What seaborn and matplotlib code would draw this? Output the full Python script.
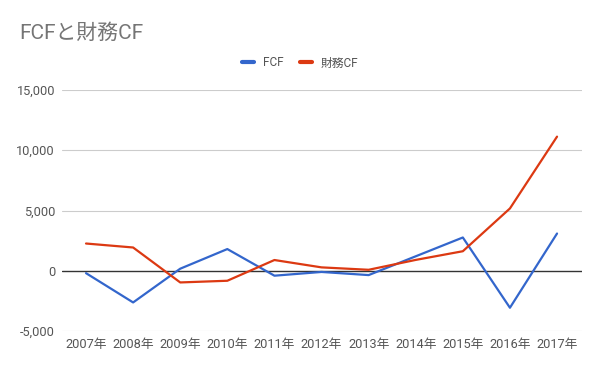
import matplotlib
matplotlib.use("Agg")
import matplotlib.pyplot as plt
import seaborn as sns
import pandas as pd
from matplotlib.lines import Line2D

years = ["2007年", "2008年", "2009年", "2010年", "2011年", "2012年",
         "2013年", "2014年", "2015年", "2016年", "2017年"]
fcf = [-200, -2630, 170, 1800, -410, -100, -360, 1200, 2760, -3070, 3090]
zaimu_cf = [2260, 1930, -970, -830, 890, 280, 80, 900, 1620, 5170, 11130]
series_names = ["FCF", "財務CF"]
yticks = [-5000, 0, 5000, 10000, 15000]

sns.set_theme(style="white")
plt.rcParams['font.family'] = ['Roboto', 'Noto Sans CJK JP', 'DejaVu Sans']

df = pd.DataFrame({
    "idx": list(range(len(years))) * 2,
    "value": fcf + zaimu_cf,
    "series": [series_names[0]] * len(years) + [series_names[1]] * len(years),
})

fig = plt.figure(figsize=(6.0, 3.71), dpi=100)
ax = fig.add_axes([62 / 600, 1 - 331 / 371, 520 / 600, 241 / 371])

palette = {"FCF": "#3366cc", "財務CF": "#dc3912"}
for y in yticks:
    ax.axhline(y, color="#333333" if y == 0 else "#cccccc", lw=1.0 if y == 0 else 0.8, zorder=1)

sns.lineplot(data=df, x="idx", y="value", hue="series", palette=palette,
             linewidth=1.6, ax=ax, legend=False, zorder=3)

ax.set_xlim(-0.51, 10.53)
ax.set_ylim(-5000, 15000)
ax.set_xticks(range(len(years)))
ax.set_xticklabels(years)
ax.set_yticks(yticks)
ax.set_yticklabels([f"{v:,}" for v in yticks])
ax.tick_params(axis="both", length=0, labelsize=9.2, colors="#555555")
ax.tick_params(axis="y", pad=5)
ax.tick_params(axis="x", pad=5)
ax.set_xlabel("")
ax.set_ylabel("")
for s in ax.spines.values():
    s.set_visible(False)

fig.text(19 / 600, 1 - 33 / 371, "FCFと財務CF", fontsize=15, color="#757575",
         ha="left", va="center")

handles = [Line2D([0], [0], color=palette[n], lw=3) for n in series_names]
fig.legend(handles, series_names, loc="center", bbox_to_anchor=(300 / 600, 1 - 63 / 371),
           ncol=2, frameon=False, fontsize=8.5, handlelength=1.0, columnspacing=1.4,
           handletextpad=0.75, labelcolor="#555555")

fig.savefig("out.png", dpi=100, facecolor="white")
